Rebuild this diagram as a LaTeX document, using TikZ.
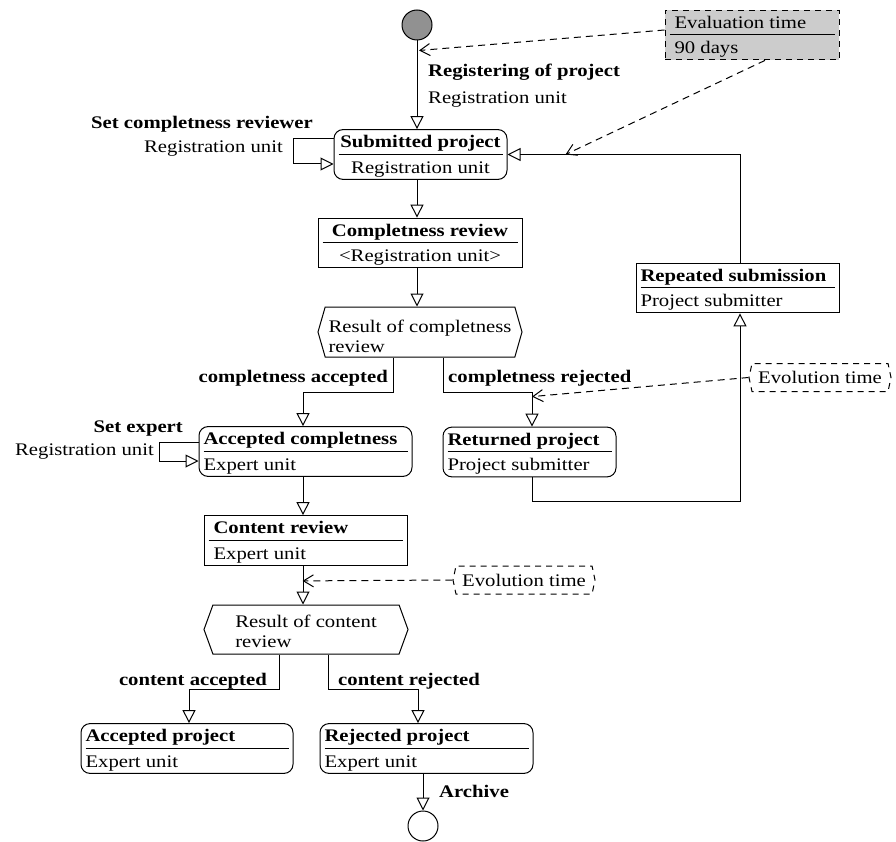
\documentclass[tikz,border=0pt]{standalone}
\usepackage{fontspec}
\setmainfont{Liberation Serif}[FakeStretch=1.17]
\usetikzlibrary{arrows.meta,shapes.symbols}

% two-part box text: bold name, rule, responsible unit (#1 width, #2 \hfil to centre)
\newcommand{\umlpart}[4]{\vbox{\hsize=#1pt
    \hbox to\hsize{#2\rule[-6pt]{0pt}{24pt}\textbf{#3}\hfil}%
    \hrule height 0.8pt\kern1pt
    \hbox to\hsize{#2\rule[-6pt]{0pt}{24pt}#4\hfil}}}

\begin{document}
\begin{tikzpicture}[x=1pt,y=-1pt,
    every node/.style={font=\fontsize{17.7}{25}\selectfont},
    flow/.style={line width=1pt,-{Triangle[open,length=13pt,width=13pt]}},
    hint/.style={line width=1pt,dash pattern=on 7pt off 5pt,-{Straight Barb[length=10pt,width=12pt]}},
    state/.style={draw,line width=1pt,rounded corners=9pt,inner xsep=4.5pt,inner ysep=0pt,minimum height=49pt},
    activity/.style={state,sharp corners},
    choice/.style={draw,line width=1pt,signal,signal to=west and east,inner xsep=0pt,inner ysep=0pt,
        align=left,font=\fontsize{17.7}{20}\selectfont},
    timer/.style={draw,line width=1pt,dash pattern=on 6pt off 5pt,signal,signal to=west and east,
        signal pointer angle=156,inner xsep=0pt,minimum width=142pt,minimum height=28pt},
    lbl/.style={inner sep=0pt}]
    \useasboundingbox (0,0) rectangle (896,842);

    % states and activities
    \node[circle,draw,line width=1pt,fill={rgb,255:red,145;green,145;blue,145},minimum size=30pt,inner sep=0pt] (init) at (417,25) {};
    \node[state] (sub) at (420.5,154.5) {\umlpart{164}{\hfil}{Submitted project}{Registration unit}};
    \node[activity] (crev) at (420,243) {\umlpart{195}{\hfil}{Completness review}{<Registration unit>}};
    \node[choice,signal pointer angle=148,minimum width=204pt,minimum height=50pt] (hexA) at (420,332) {\rule{0pt}{22pt}Result of completness\\review};
    \node[state] (accc) at (305.5,451.5) {\umlpart{204}{}{Accepted completness}{Expert unit}};
    \node[state] (ret) at (529.5,452) {\umlpart{164}{}{Returned project}{Project submitter}};
    \node[activity] (rep) at (737.5,288) {\umlpart{194}{}{Repeated submission}{Project submitter}};
    \node[activity] (crv) at (305.5,540.5) {\umlpart{194}{\hskip5pt}{Content review}{Expert unit}};
    \node[choice,signal pointer angle=140,minimum width=204pt,minimum height=49pt] (hexB) at (306,629.5) {\rule{0pt}{17pt}Result of content\\review};
    \node[state] (accp) at (187,748.5) {\umlpart{203}{}{Accepted project}{Expert unit}};
    \node[state] (rejp) at (426.5,748.5) {\umlpart{204}{}{Rejected project}{Expert unit}};
    \node[circle,draw,line width=1pt,minimum size=30pt,inner sep=0pt] (final) at (423,826) {};

    % time notes
    \node[activity,dash pattern=on 6pt off 5pt,fill={rgb,255:red,204;green,204;blue,204}] (eval) at (752,35)
        {\umlpart{165}{\hskip5pt}{\mdseries Evaluation time}{90 days}};
    \node[timer] (evoA) at (820,377.5) {Evolution time};
    \node[timer] (evoB) at (524,580) {Evolution time};

    % transitions
    \draw[flow] (init) -- (init |- sub.north);
    \draw[flow] ([yshift=15.5pt]sub.west) -- ++(-40,0) |- ([yshift=-9.5pt]sub.west);
    \draw[flow] (sub.south -| init) -- (init |- crev.north);
    \draw[flow] (crev.south -| init) -- (init |- hexA.north);
    \draw[flow] ([xshift=-27pt]hexA.south) -- ++(0,35) -| ([xshift=-2.5pt]accc.north);
    \draw[flow] ([xshift=23pt]hexA.south) -- ++(0,35) -| ([xshift=2.5pt]ret.north);
    \draw[flow] ([xshift=2.5pt]ret.south) -- ++(0,24) -| ([xshift=2.5pt]rep.south);
    \draw[flow] ([xshift=2.5pt]rep.north) |- (sub.east);
    \draw[flow] ([yshift=9.5pt]accc.west) -- ++(-39,0) |- ([yshift=-9.5pt]accc.west);
    \draw[flow] ([xshift=-2.5pt]accc.south) -- ([xshift=-2.5pt]crv.north);
    \draw[flow] ([xshift=-2.5pt]crv.south) -- ([xshift=-3pt]hexB.north);
    \draw[flow] ([xshift=-27pt]hexB.south) -- ++(0,35) -| ([xshift=2pt]accp.north);
    \draw[flow] ([xshift=22pt]hexB.south) -- ++(0,35) -| ([xshift=-8.5pt]rejp.north);
    \draw[flow] ([xshift=-3.5pt]rejp.south) -- (final);

    % time hints
    \draw[hint] ([yshift=5pt]eval.west) -- ([shift={(2pt,-10pt)}]init.south);
    \draw[hint] ([xshift=13pt]eval.south) -- ([xshift=58pt]sub.east);
    \draw[hint] (evoA.west) -- ([shift={(2.5pt,30pt)}]ret.north);
    \draw[hint] (evoB.west) -- ([shift={(-3pt,-15pt)}]crv.south);

    % transition labels
    \node[lbl,anchor=base west] (regA) at (428,77) {\textbf{Registering of project}};
    \node[lbl,anchor=base west] (regB) at (428,104) {Registration unit};
    \node[lbl,anchor=base east] (setA) at (313,129) {\textbf{Set completness reviewer}};
    \node[lbl,anchor=base east] (setB) at (283,153) {Registration unit};
    \node[lbl,anchor=base east] (cacc) at (388,382) {\textbf{completness accepted}};
    \node[lbl,anchor=base west] (crej) at (448,382) {\textbf{completness rejected}};
    \node[lbl,anchor=base east] (expA) at (183,432) {\textbf{Set expert}};
    \node[lbl,anchor=base east] (expB) at (154,455) {Registration unit};
    \node[lbl,anchor=base east] (tacc) at (267,685) {\textbf{content accepted}};
    \node[lbl,anchor=base west] (trej) at (338,685) {\textbf{content rejected}};
    \node[lbl,anchor=base west] (arch) at (439,797) {\textbf{Archive}};
\end{tikzpicture}
\end{document}
